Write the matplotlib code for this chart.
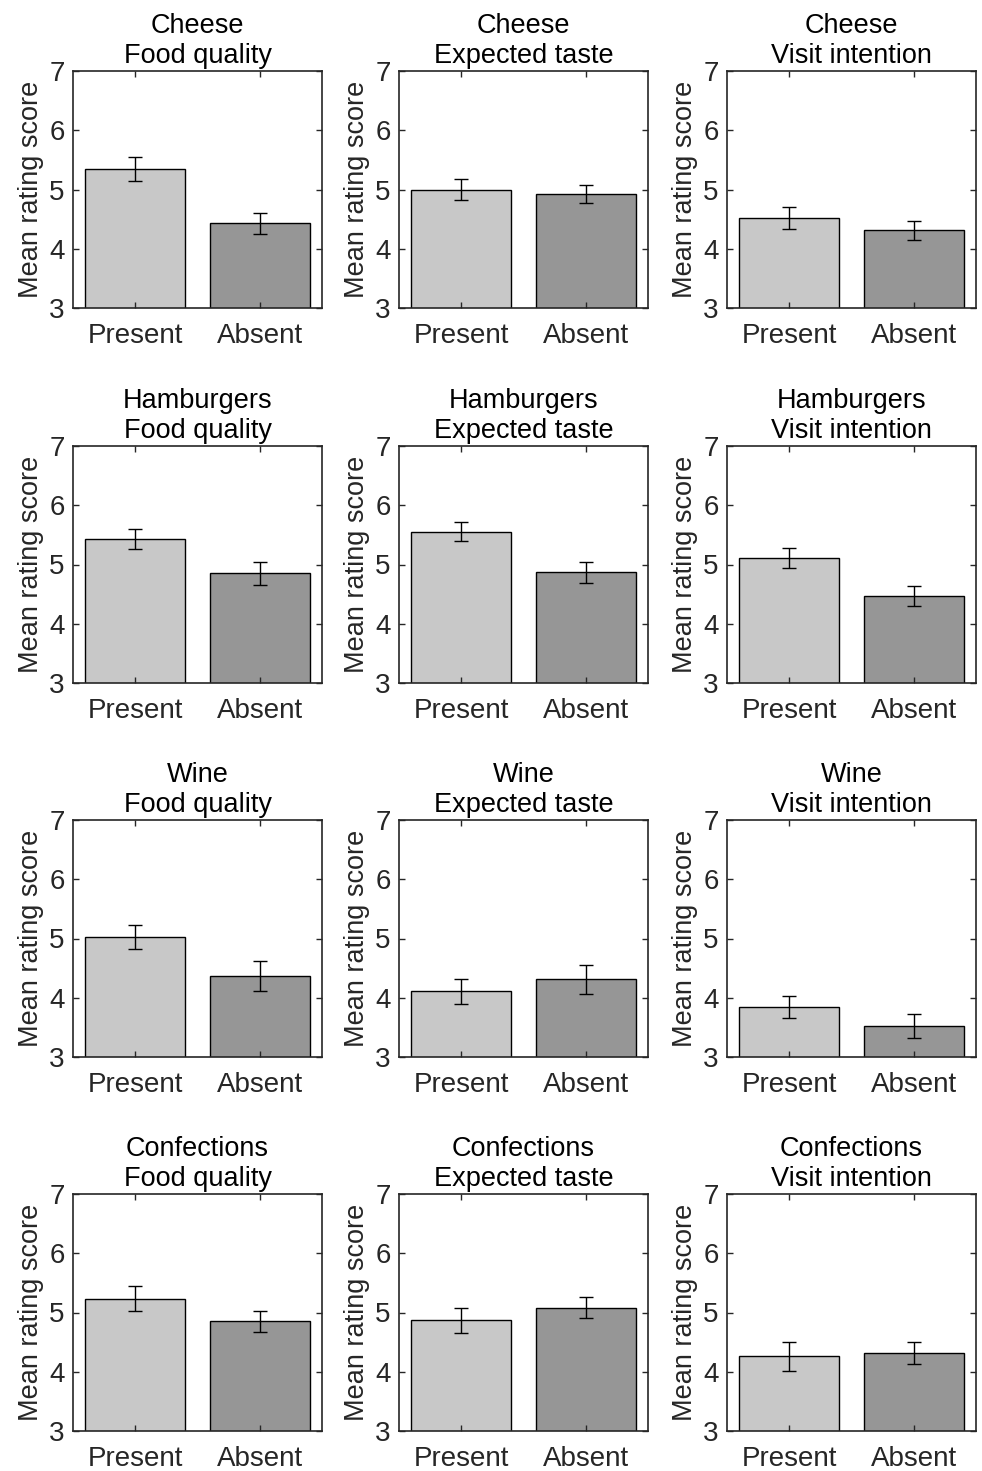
import numpy as np
import matplotlib
matplotlib.use("Agg")
import matplotlib.pyplot as plt

plt.rcParams['font.family'] = ['Liberation Sans', 'DejaVu Sans']

# datos
productos = ["Cheese", "Hamburgers", "Wine", "Confections"]
medidas = ["Food quality", "Expected taste", "Visit intention"]
condiciones = ["Present", "Absent"]

# medias [producto][medida] -> (present, absent)
medias = [
    [(5.35, 4.43), (5.00, 4.92), (4.52, 4.31)],
    [(5.43, 4.85), (5.55, 4.87), (5.11, 4.47)],
    [(5.02, 4.37), (4.11, 4.31), (3.84, 3.52)],
    [(5.23, 4.85), (4.87, 5.08), (4.26, 4.32)],
]
# error (semi-amplitud de la barra de error)
errores = [
    [(0.20, 0.18), (0.18, 0.15), (0.18, 0.16)],
    [(0.17, 0.19), (0.16, 0.18), (0.17, 0.17)],
    [(0.20, 0.25), (0.21, 0.24), (0.19, 0.20)],
    [(0.21, 0.18), (0.21, 0.18), (0.24, 0.19)],
]

colores = ["#c8c8c8", "#969696"]
gris = "#262626"

W, H = 982, 1471
fig = plt.figure(figsize=(W / 100, H / 100), dpi=100)

lefts = [73, 399, 727]
tops = [71, 446, 820, 1194]
ancho, alto = 249, 237

for i, prod in enumerate(productos):
    for j, med in enumerate(medidas):
        ax = fig.add_axes([lefts[j] / W, 1 - (tops[i] + alto) / H, ancho / W, alto / H])
        x = np.arange(1, 3)
        ax.bar(x, medias[i][j], width=0.8, color=colores, edgecolor="black", linewidth=1.0)
        ax.errorbar(x, medias[i][j], yerr=errores[i][j], fmt="none", ecolor="black",
                    elinewidth=1.0, capsize=5, capthick=1.0)
        ax.set_xlim(0.5, 2.5)
        ax.set_ylim(3, 7)
        ax.set_xticks(x)
        ax.set_xticklabels(condiciones)
        ax.set_yticks([3, 4, 5, 6, 7])
        ax.tick_params(direction="in", top=True, right=True, length=4, width=1.0,
                       colors=gris, labelsize=20, pad=6)
        ax.tick_params(axis="x", pad=11)
        for s in ax.spines.values():
            s.set_color(gris)
            s.set_linewidth(1.2)
        ax.set_ylabel("Mean rating score", fontsize=19.5, color=gris, labelpad=4)
        ax.set_title(prod + "\n" + med, fontsize=19.5, color="black", pad=6, linespacing=1.2)

fig.savefig("out.png", dpi=100)
